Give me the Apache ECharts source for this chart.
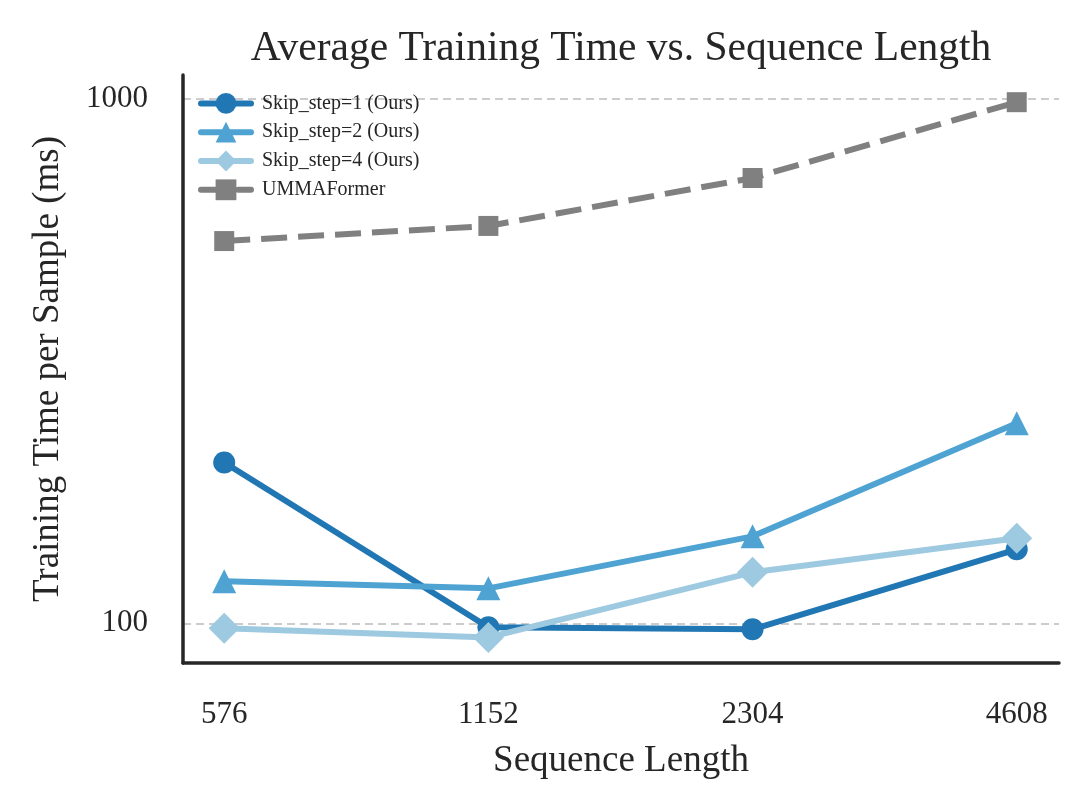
<!DOCTYPE html>
<html>
<head>
<meta charset="utf-8">
<script src="https://cdn.jsdelivr.net/npm/echarts@6/dist/echarts.min.js"></script>
<style>
  html, body { margin: 0; padding: 0; background: #fff; }
  #chart1 { width: 1086px; height: 811px; }
</style>
</head>
<body>
<div id="chart1"></div>
<script>
// 数据
var categories = ['576', '1152', '2304', '4608'];
var seriesNames = ['Skip_step=1 (Ours)', 'Skip_step=2 (Ours)', 'Skip_step=4 (Ours)', 'UMMAFormer'];
var skip1 = [202.6, 98.3, 97.4, 138.4];
var skip2 = [120.3, 116.6, 146.5, 240.8];
var skip4 = [97.8, 94.0, 125.1, 145.3];
var umma = [535.8, 572.6, 706.7, 986.0];
var yTicks = [100, 1000];

var font = 'Liberation Serif';
var ink = '#262626';

function toPoints(arr) {
    return arr.map(function (v, i) { return [i, v]; });
}

function lineSeries(name, values, color, symbol, size, dashed) {
    return {
        name: name,
        type: 'line',
        data: toPoints(values),
        symbol: symbol,
        symbolSize: size,
        showSymbol: true,
        lineStyle: { color: color, width: 6, type: dashed ? [26, 11] : 'solid' },
        itemStyle: { color: color },
        emphasis: { disabled: true }
    };
}

var myChart = echarts.init(document.getElementById('chart1'));
myChart.setOption({
    animation: false,
    backgroundColor: '#fff',
    title: {
        text: 'Average Training Time vs. Sequence Length',
        left: 621,
        textAlign: 'center',
        top: 28,
        padding: 0,
        textStyle: { fontFamily: font, fontSize: 41.5, fontWeight: 'normal', color: ink }
    },
    // 图例
    legend: {
        data: seriesNames,
        orient: 'vertical',
        left: 198,
        top: 93,
        padding: 0,
        itemWidth: 50,
        itemHeight: 26,
        itemGap: 8,
        lineStyle: { width: 6, cap: 'round' },
        textStyle: { fontFamily: font, fontSize: 20, color: ink, padding: [0, 0, 0, 6] }
    },
    grid: { left: 183, right: 27, top: 75, bottom: 148 },
    // x轴
    xAxis: {
        type: 'value',
        min: -0.156,
        max: 3.16,
        name: 'Sequence Length',
        nameLocation: 'middle',
        nameGap: 80,
        nameTextStyle: { fontFamily: font, fontSize: 37, color: ink },
        axisLine: { show: true, onZero: false, lineStyle: { color: ink, width: 3.5 } },
        axisTick: { show: false },
        splitLine: { show: false },
        axisLabel: {
            customValues: [0, 1, 2, 3],
            formatter: function (v) { return categories[Math.round(v)]; },
            fontFamily: font, fontSize: 31, color: ink, margin: 36
        }
    },
    // y轴
    yAxis: {
        type: 'log',
        logBase: 10,
        min: 84,
        max: 1111,
        name: 'Training Time per Sample (ms)',
        nameLocation: 'middle',
        nameGap: 116,
        nameTextStyle: { fontFamily: font, fontSize: 37, color: ink },
        axisLine: { show: true, onZero: false, lineStyle: { color: ink, width: 3.5 } },
        axisTick: { show: false, customValues: yTicks },
        axisLabel: {
            customValues: yTicks,
            formatter: function (v) { return String(Math.round(v)); },
            fontFamily: font, fontSize: 31, color: ink, margin: 35
        },
        splitLine: { show: true, lineStyle: { color: '#cccccc', width: 2, type: [8, 5] } }
    },
    series: [
        lineSeries(seriesNames[0], skip1, '#2077b4', 'circle', 22, false),
        lineSeries(seriesNames[1], skip2, '#4ea3d3', 'triangle', 24, false),
        lineSeries(seriesNames[2], skip4, '#9ecae1', 'diamond', 31, false),
        lineSeries(seriesNames[3], umma, '#808080', 'rect', 20, true)
    ]
});
</script>
</body>
</html>
